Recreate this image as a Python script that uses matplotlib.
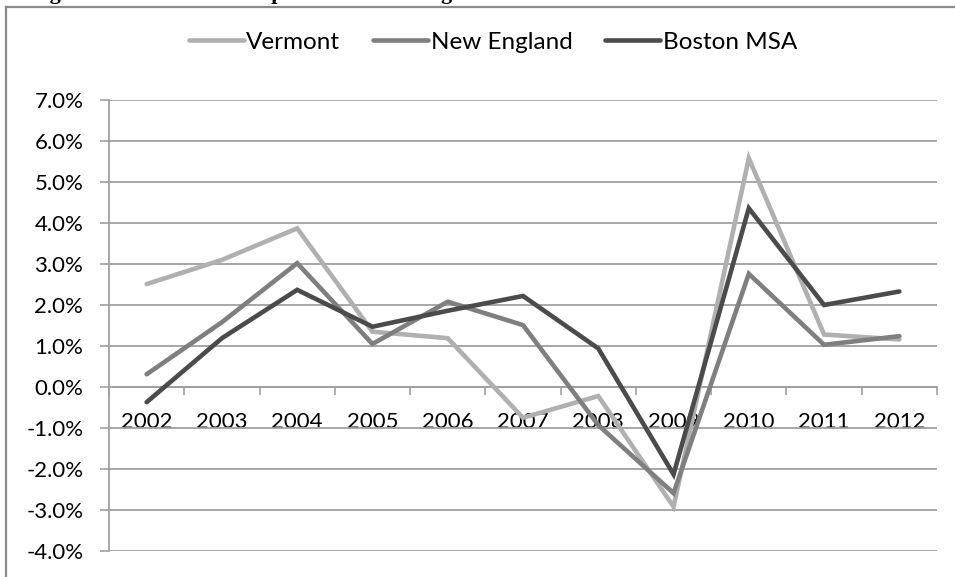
import matplotlib
matplotlib.use("Agg")
import matplotlib.pyplot as plt
from matplotlib.ticker import FuncFormatter, FixedLocator
import numpy as np

# data (percent change)
years = ["2002", "2003", "2004", "2005", "2006", "2007", "2008", "2009", "2010", "2011", "2012"]
vermont = [2.51, 3.10, 3.87, 1.35, 1.19, -0.75, -0.22, -2.92, 5.58, 1.28, 1.16]
new_england = [0.31, 1.58, 3.02, 1.05, 2.08, 1.51, -0.93, -2.59, 2.76, 1.03, 1.24]
boston = [-0.37, 1.19, 2.37, 1.47, 1.86, 2.22, 0.94, -2.13, 4.36, 2.00, 2.33]
series_names = ["Vermont", "New England", "Boston MSA"]
y_ticks = [-4, -3, -2, -1, 0, 1, 2, 3, 4, 5, 6, 7]

plt.rcParams["font.family"] = ["Lato", "DejaVu Sans"]

W, H = 955, 577
fig = plt.figure(figsize=(W / 100, H / 100), dpi=100)

# pixel box of the plot area
left, right, top, bottom = 109, 937, 100, 551
ax = fig.add_axes([left / W, 1 - bottom / H, (right - left) / W, (bottom - top) / H])

x = np.arange(len(years))
cols = ["#b0b0b0", "#7f7f7f", "#4b4b4b"]
for vals, name, c in zip([vermont, new_england, boston], series_names, cols):
    ax.plot(x, vals, color=c, lw=3.3, label=name, solid_capstyle="round",
            solid_joinstyle="miter", zorder=3)

ax.set_xlim(-0.5, len(years) - 0.5)
ax.set_ylim(y_ticks[0], y_ticks[-1])

grid_c = "#a0a0a0"
ax.set_yticks(y_ticks)
ax.yaxis.set_major_formatter(FuncFormatter(lambda v, p: f"{v:.1f}%"))
ax.grid(axis="y", color=grid_c, lw=1.3, zorder=0)
ax.tick_params(axis="y", length=6.5, width=1.2, color=grid_c, pad=12, labelsize=16)

# category axis sits at 0, tick marks between categories
ax.spines["bottom"].set_position(("data", 0))
ax.set_xticks(x)
ax.set_xticklabels(years)
ax.xaxis.set_minor_locator(FixedLocator(np.arange(-0.5, len(years), 1.0)))
ax.tick_params(axis="x", which="major", length=0, pad=18, labelsize=16)
ax.tick_params(axis="x", which="minor", length=6, width=1.2, color=grid_c, direction="out")

for s in ["top", "right"]:
    ax.spines[s].set_visible(False)
for s in ["left", "bottom"]:
    ax.spines[s].set_color(grid_c)
    ax.spines[s].set_linewidth(1.3)

fig.legend(loc="center", bbox_to_anchor=(493 / W, 1 - 42 / H), ncol=3, frameon=False,
           fontsize=17.5, handlelength=2.26, handletextpad=0.1, columnspacing=1.36)

# outer chart frame (cut off on the right and bottom)
fig.add_artist(plt.Line2D([6 / W, 6 / W], [0, 1 - 7 / H], color="#8a8a8a", lw=1.6))
fig.add_artist(plt.Line2D([6 / W, 1], [1 - 7 / H, 1 - 7 / H], color="#8a8a8a", lw=1.6))

# title above the chart, mostly clipped away
fig.text(30 / W, 1 + 1 / H, "Figure 11: Annual Per Capita Income Change", fontsize=15.8,
         fontweight="bold", family="Liberation Serif", va="baseline", ha="left")

fig.savefig("out.png", dpi=100)
